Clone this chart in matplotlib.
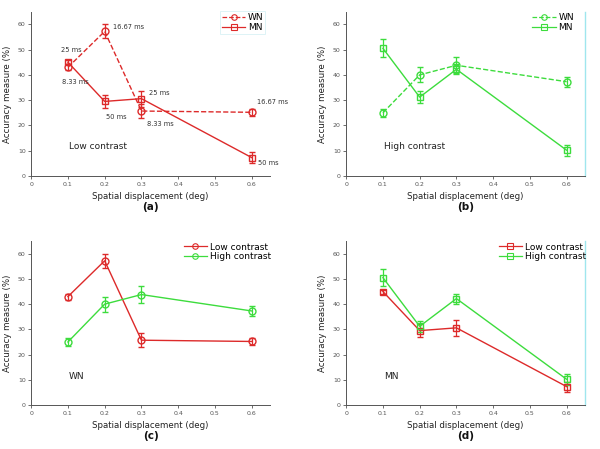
import numpy as np
import matplotlib.pyplot as plt
from matplotlib.lines import Line2D

# data
disp = [0.1, 0.2, 0.3, 0.6]

wn_low = [43.0, 57.2, 25.7, 25.2]
wn_low_err = [1.2, 2.8, 2.8, 1.5]
mn_low = [45.0, 29.5, 30.6, 7.3]
mn_low_err = [0.8, 2.7, 3.2, 2.0]

wn_high = [25.0, 40.0, 43.8, 37.3]
wn_high_err = [1.5, 3.0, 3.2, 2.0]
mn_high = [50.5, 31.2, 42.2, 10.2]
mn_high_err = [3.5, 2.3, 2.0, 2.2]

# duration annotations in panel (a): (text, x, y)
ms_labels = ["25 ms", "8.33 ms", "16.67 ms", "50 ms", "25 ms", "8.33 ms", "16.67 ms", "50 ms"]
ms_x = [0.08, 0.084, 0.222, 0.203, 0.32, 0.314, 0.614, 0.617]
ms_y = [50.0, 37.0, 59.0, 23.3, 33.0, 20.5, 29.4, 5.0]

xticks = [0, 0.1, 0.2, 0.3, 0.4, 0.5, 0.6]
yticks = [0, 10, 20, 30, 40, 50, 60]

RED = '#dd2a2a'
GREEN = '#3ddc3d'
GREY = '#555555'

fig = plt.figure(figsize=(6.0, 4.49), dpi=100)

positions = {
    'a': [0.052, 0.608, 0.398, 0.366],
    'b': [0.577, 0.608, 0.398, 0.366],
    'c': [0.052, 0.098, 0.398, 0.365],
    'd': [0.577, 0.098, 0.398, 0.365],
}


def setup(ax, caption, cyan_edge=False):
    ax.set_xlim(0, 0.65)
    ax.set_ylim(0, 65)
    ax.set_xticks(xticks)
    ax.set_xticklabels(['0', '0.1', '0.2', '0.3', '0.4', '0.5', '0.6'])
    ax.set_yticks(yticks)
    ax.tick_params(labelsize=4.5, colors=GREY, length=2, width=0.6, pad=2)
    for s in ['top', 'right']:
        ax.spines[s].set_visible(False)
    for s in ['left', 'bottom']:
        ax.spines[s].set_color(GREY)
        ax.spines[s].set_linewidth(0.7)
    if cyan_edge:
        ax.axvline(0.65, color='#9fe6ee', lw=1.0, clip_on=False)
    ax.set_xlabel('Spatial displacement (deg)', fontsize=6.2, color='#222222', labelpad=4)
    ax.set_ylabel('Accuracy measure (%)', fontsize=6.2, color='#222222', labelpad=4)
    ax.text(0.5, -0.19, caption, transform=ax.transAxes, ha='center', va='center',
            fontsize=7.5, fontweight='bold', color='#111111')


def series(ax, y, err, color, marker, ls):
    ax.errorbar(disp, y, yerr=err, color=color, marker=marker, ls=ls, lw=1.0,
                ms=5, mfc='none', mec=color, mew=1.0, capsize=2, elinewidth=0.9)


def legend(ax, labels, colors, markers, styles, anchor, frame=False):
    handles = [Line2D([], [], color=c, marker=m, ls=s, lw=0.9, ms=4, mfc='none', mew=0.8)
               for c, m, s in zip(colors, markers, styles)]
    leg = ax.legend(handles, labels, loc='upper right', fontsize=6.5, frameon=frame,
                    fancybox=False, handlelength=2.6, handletextpad=0.3,
                    borderpad=0.2, labelspacing=0.1, bbox_to_anchor=anchor)
    if frame:
        leg.get_frame().set_edgecolor('#cfeef2')
        leg.get_frame().set_linewidth(0.6)


# (a) low contrast
ax = fig.add_axes(positions['a'])
series(ax, wn_low, wn_low_err, RED, 'o', '--')
series(ax, mn_low, mn_low_err, RED, 's', '-')
for t, x, y in zip(ms_labels, ms_x, ms_y):
    ax.text(x, y, t, fontsize=4.8, color='#333333', va='center')
ax.text(0.103, 11.5, 'Low contrast', fontsize=6.5, color='#222222', va='center')
setup(ax, '(a)')
legend(ax, ['WN', 'MN'], [RED, RED], ['o', 's'], ['--', '-'], (1.0, 1.03), frame=True)

# (b) high contrast
ax = fig.add_axes(positions['b'])
series(ax, wn_high, wn_high_err, GREEN, 'o', '--')
series(ax, mn_high, mn_high_err, GREEN, 's', '-')
ax.text(0.103, 11.5, 'High contrast', fontsize=6.5, color='#222222', va='center')
setup(ax, '(b)', cyan_edge=True)
legend(ax, ['WN', 'MN'], [GREEN, GREEN], ['o', 's'], ['--', '-'], (0.98, 1.03))

# (c) WN
ax = fig.add_axes(positions['c'])
series(ax, wn_low, wn_low_err, RED, 'o', '-')
series(ax, wn_high, wn_high_err, GREEN, 'o', '-')
ax.text(0.103, 11.5, 'WN', fontsize=6.5, color='#222222', va='center')
setup(ax, '(c)')
legend(ax, ['Low contrast', 'High contrast'], [RED, GREEN], ['o', 'o'], ['-', '-'], (1.03, 1.03))

# (d) MN
ax = fig.add_axes(positions['d'])
series(ax, mn_low, mn_low_err, RED, 's', '-')
series(ax, mn_high, mn_high_err, GREEN, 's', '-')
ax.text(0.103, 11.5, 'MN', fontsize=6.5, color='#222222', va='center')
setup(ax, '(d)', cyan_edge=True)
legend(ax, ['Low contrast', 'High contrast'], [RED, GREEN], ['s', 's'], ['-', '-'], (1.03, 1.03))

fig.savefig('out.png', dpi=100)
